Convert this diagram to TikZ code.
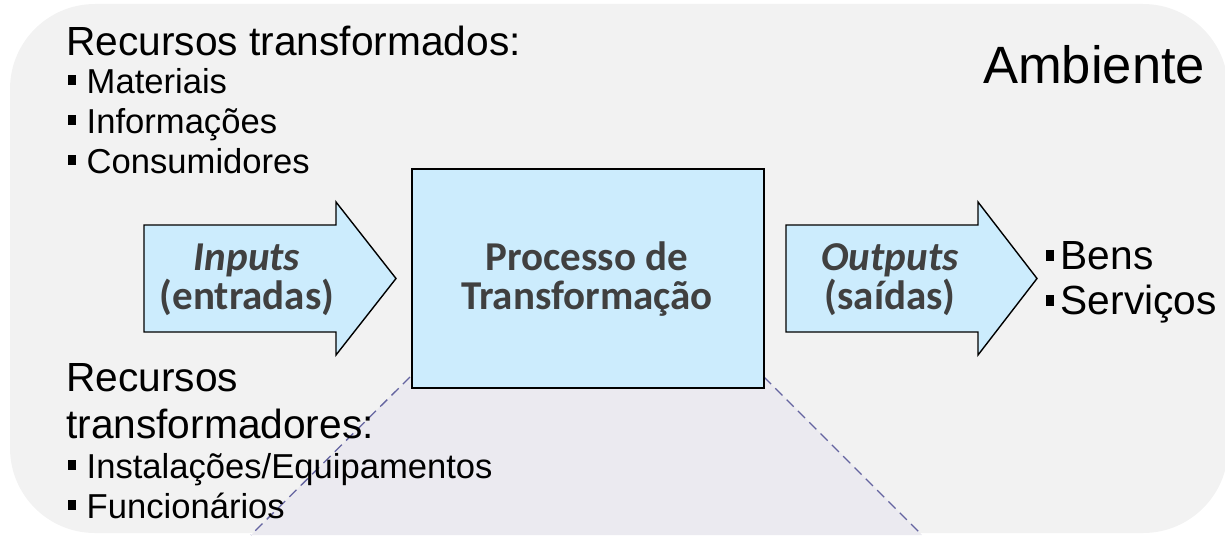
\documentclass[tikz,border=0pt]{standalone}
\usepackage{fontspec}
\setmainfont{Liberation Sans}
\newfontfamily\boxfont{Carlito}
\begin{document}
\begin{tikzpicture}[x=1pt,y=-1pt,
  bigtxt/.style={anchor=base west,inner sep=0pt,font=\fontsize{40.7}{48}\selectfont},
  itemtxt/.style={anchor=base west,inner sep=0pt,font=\fontsize{34.6}{40}\selectfont},
  bluetxt/.style={anchor=base,inner sep=0pt,text=txtgrey,font=\boxfont\bfseries\fontsize{41}{41}\selectfont},
  blockarrow/.style={fill=boxblue,draw=black,line width=1.4pt,line join=miter},
  procbox/.style={fill=boxblue,draw=black,line width=2.2pt},
  guide/.style={draw=guidec,line width=1.3pt,dash pattern=on 10pt off 6pt}
]
\definecolor{bgc}{RGB}{242,242,242}
\definecolor{trapc}{RGB}{235,234,240}
\definecolor{boxblue}{RGB}{204,236,253}
\definecolor{txtgrey}{RGB}{64,64,64}
\definecolor{guidec}{RGB}{100,100,160}
\newcommand{\sqb}{\rule[8pt]{8pt}{10pt}\hspace{10.5pt}}
\newcommand{\sqbig}{\rule[8pt]{8pt}{11pt}\hspace{6.5pt}}
\useasboundingbox (0,0) rectangle (1225,535);
% environment background
\fill[bgc,rounded corners=85pt] (10,4) rectangle (1228,533);
% trapezoid below the process
\coordinate (tl) at (410,377);
\coordinate (tr) at (764,377);
\coordinate (bl) at (251,535);
\coordinate (br) at (922,535);
\fill[trapc] (tl) -- (tr) -- (br) -- (bl) -- cycle;
\draw[guide] (tl) -- (bl);
\draw[guide] (tr) -- (br);
% process box
\node[procbox,minimum width=352pt,minimum height=219pt,anchor=north west,inner sep=0pt] (proc) at (411,168) {};
\node[bluetxt] (p1) at (587,270) {Processo de};
\node[bluetxt] (p2) at (587,309) {Transformação};
% input arrow
\draw[blockarrow] (144,225) -- (336,225) -- (336,202) -- (396,278.5) -- (336,355) -- (336,332) -- (144,332) -- cycle;
\node[bluetxt] (in1) at (247,270) {\itshape Inputs};
\node[bluetxt] (in2) at (247,309) {(entradas)};
% output arrow
\draw[blockarrow] (786,225) -- (978,225) -- (978,202) -- (1037,278.5) -- (978,355) -- (978,332) -- (786,332) -- cycle;
\node[bluetxt] (out1) at (890,270) {\itshape Outputs};
\node[bluetxt] (out2) at (890,309) {(saídas)};
% texts
\node[bigtxt] (rt) at (66,56) {Recursos transformados:};
\node[itemtxt] (m) at (68,93) {\sqb Materiais};
\node[itemtxt] (i) at (68,133) {\sqb Informações};
\node[itemtxt] (c) at (68,173) {\sqb Consumidores};
\node[bigtxt] (rr1) at (66,391) {Recursos};
\node[bigtxt] (rr2) at (66,438) {transformadores:};
\node[itemtxt] (ie) at (68,478) {\sqb Instalações/Equipamentos};
\node[itemtxt] (f) at (68,518) {\sqb Funcionários};
\node[anchor=base west,inner sep=0pt,font=\fontsize{52.5}{60}\selectfont] (amb) at (983,83) {Ambiente};
\node[bigtxt] (bens) at (1046,269) {\sqbig Bens};
\node[bigtxt] (serv) at (1046,314) {\sqbig Serviços};
\end{tikzpicture}
\end{document}
